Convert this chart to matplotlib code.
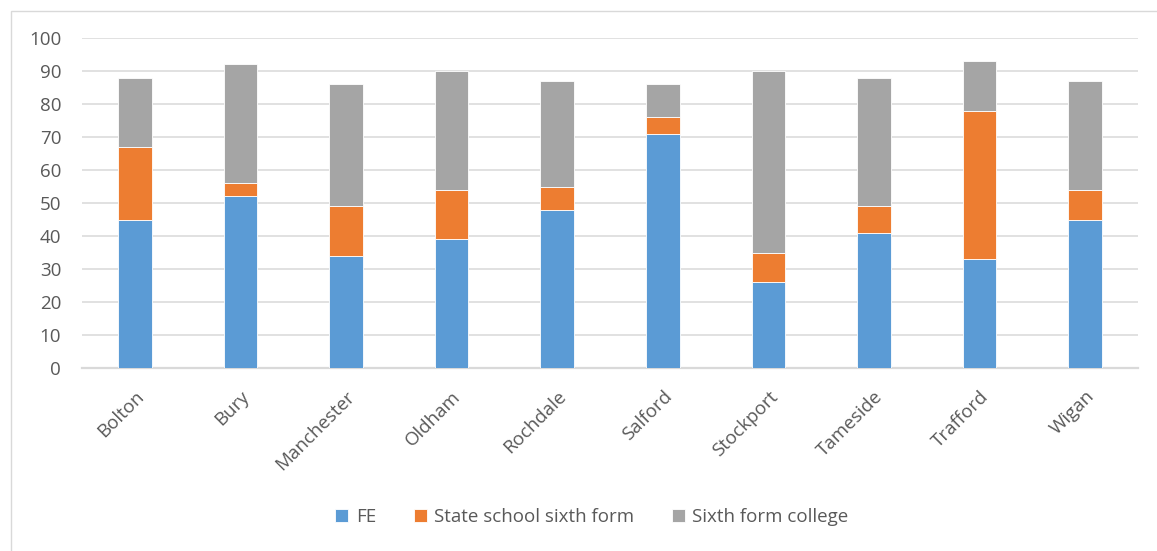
import matplotlib
matplotlib.use("Agg")
import matplotlib.pyplot as plt
import numpy as np
from matplotlib.patches import Rectangle

categories = ["Bolton", "Bury", "Manchester", "Oldham", "Rochdale",
              "Salford", "Stockport", "Tameside", "Trafford", "Wigan"]
fe = [45, 52, 34, 39, 48, 71, 26, 41, 33, 45]
state_sixth = [22, 4, 15, 15, 7, 5, 9, 8, 45, 9]
sixth_college = [21, 36, 37, 36, 32, 10, 55, 39, 15, 33]
series_names = ["FE", "State school sixth form", "Sixth form college"]
colors = ["#5B9BD5", "#ED7D31", "#A5A5A5"]
yticks = list(range(0, 101, 10))

plt.rcParams['font.family'] = ['Open Sans', 'DejaVu Sans']
W, H = 1157, 551
fig = plt.figure(figsize=(W / 100, H / 100), dpi=100)
ax = fig.add_axes([82 / W, (H - 368) / H, (1138 - 82) / W, 330 / H])

x = np.arange(len(categories))
bw = 0.32
bottom = np.zeros(len(categories))
for vals, name, c in zip([fe, state_sixth, sixth_college], series_names, colors):
    ax.bar(x, vals, bw, bottom=bottom, color=c, label=name,
           edgecolor="white", linewidth=0.6, zorder=3)
    bottom += np.array(vals)

ax.set_xlim(-0.5, len(categories) - 0.5)
ax.set_ylim(0, 100)
ax.set_yticks(yticks)
ax.set_yticklabels([str(v) for v in yticks])
ax.yaxis.grid(True, color="#D9D9D9", linewidth=1.1, zorder=0)
ax.set_axisbelow(True)
for s in ["top", "right", "left"]:
    ax.spines[s].set_visible(False)
ax.spines["bottom"].set_color("#D9D9D9")
ax.spines["bottom"].set_linewidth(1.6)
ax.tick_params(axis="y", length=0, pad=15, labelsize=13.5, labelcolor="#595959")
ax.tick_params(axis="x", length=0, pad=14, labelsize=13.5, labelcolor="#595959")
ax.set_xticks(x)
ax.set_xticklabels(categories, rotation=45, ha="right", rotation_mode="anchor")

leg = fig.legend(loc="center", bbox_to_anchor=(592 / W, (H - 517) / H), ncol=3,
                 frameon=False, fontsize=13.5, handlelength=0.7, handleheight=0.7,
                 handletextpad=0.4, columnspacing=2.0, labelcolor="#595959")

fig.patches.append(Rectangle((11 / W, -0.1), 1.2, (H - 11) / H + 0.1,
                             transform=fig.transFigure, fill=False,
                             edgecolor="#D9D9D9", linewidth=1.0))

fig.savefig("out.png", dpi=100, facecolor="white")
